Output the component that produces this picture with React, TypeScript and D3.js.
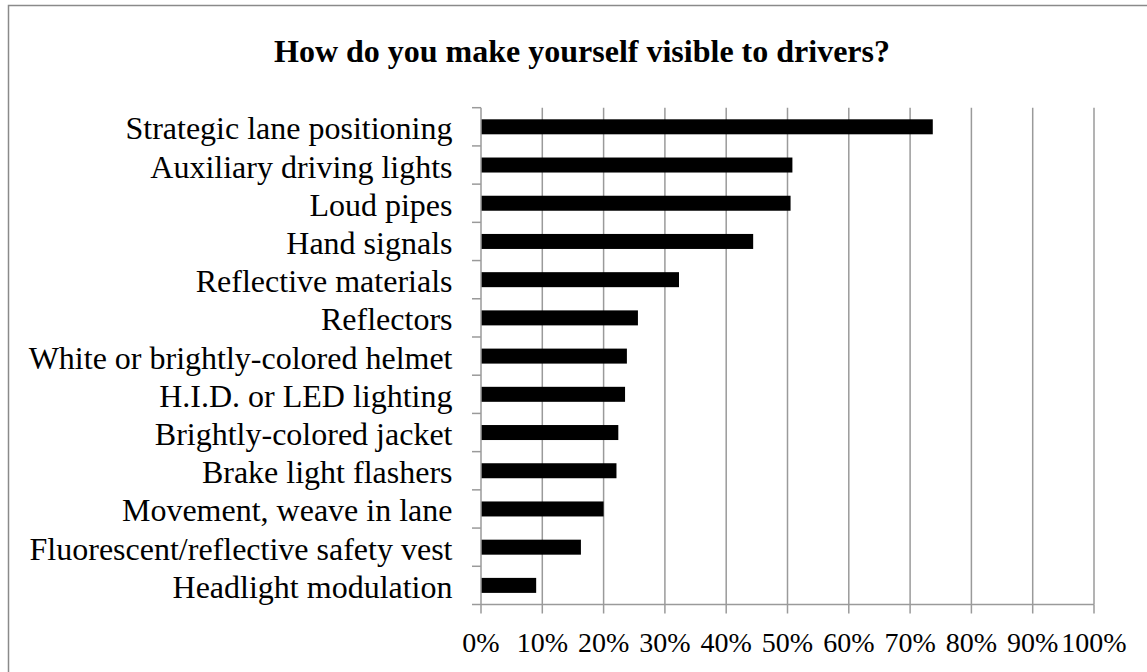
import React from "react";
import * as d3 from "d3";

const categories = [
  "Strategic lane positioning",
  "Auxiliary driving lights",
  "Loud pipes",
  "Hand signals",
  "Reflective materials",
  "Reflectors",
  "White or brightly-colored helmet",
  "H.I.D. or LED lighting",
  "Brightly-colored jacket",
  "Brake light flashers",
  "Movement, weave in lane",
  "Fluorescent/reflective safety vest",
  "Headlight modulation",
];
const values = [73.7, 50.8, 50.5, 44.4, 32.3, 25.6, 23.8, 23.5, 22.4, 22.1, 20.0, 16.3, 9.0];
const xTicks = [0, 10, 20, 30, 40, 50, 60, 70, 80, 90, 100];
const title = "How do you make yourself visible to drivers?";

const W = 1147;
const H = 672;
const left = 481;
const right = 1094;
const top = 107.7;
const bottom = 604.5;
const gridColor = "#9a9a9a";
const font = "'Liberation Serif', 'Times New Roman', serif";

export default function App() {
  const x = d3.scaleLinear().domain([0, 100]).range([left, right]);
  const step = (bottom - top) / categories.length;
  const p = 1 - 15 / step;
  const y = d3
    .scaleBand<string>()
    .domain(categories)
    .range([top, bottom])
    .paddingInner(p)
    .paddingOuter(p / 2);
  const boundaries = d3.range(categories.length + 1).map((i) => top + i * step);

  return (
    <svg
      width={W}
      height={H}
      style={{ position: "absolute", left: 0, top: 0, background: "#fff" }}
    >
      <rect x={8.5} y={5.5} width={1145} height={680} fill="#fff" stroke="#8a8a8a" strokeWidth={1.5} />
      <text
        x={582}
        y={61.7}
        textAnchor="middle"
        fontFamily={font}
        fontWeight="bold"
        fontSize={32}
        fill="#000"
      >
        {title}
      </text>
      {xTicks.filter((t) => t > 0).map((t) => (
        <line key={"g" + t} x1={x(t)} x2={x(t)} y1={top} y2={bottom} stroke={gridColor} strokeWidth={1.5} />
      ))}
      {categories.map((c, i) => (
        <rect key={c} x={x(0)} y={y(c)!} width={x(values[i]) - x(0)} height={y.bandwidth()} fill="#000" />
      ))}
      <line x1={left} x2={left} y1={top} y2={bottom} stroke={gridColor} strokeWidth={1.5} />
      <line x1={left} x2={right} y1={bottom} y2={bottom} stroke={gridColor} strokeWidth={1.5} />
      {boundaries.map((b, i) => (
        <line key={"yt" + i} x1={left - 9} x2={left} y1={b} y2={b} stroke={gridColor} strokeWidth={1.5} />
      ))}
      {xTicks.map((t) => (
        <line key={"xt" + t} x1={x(t)} x2={x(t)} y1={bottom} y2={bottom + 9} stroke={gridColor} strokeWidth={1.5} />
      ))}
      {categories.map((c) => (
        <text
          key={"l" + c}
          x={452.5}
          y={y(c)! + y.bandwidth() / 2 + 12.5}
          textAnchor="end"
          fontFamily={font}
          fontSize={32}
          fill="#000"
        >
          {c}
        </text>
      ))}
      {xTicks.map((t) => (
        <text
          key={"xl" + t}
          x={x(t)}
          y={651.7}
          textAnchor="middle"
          fontFamily={font}
          fontSize={28}
          fill="#000"
        >
          {t + "%"}
        </text>
      ))}
    </svg>
  );
}
